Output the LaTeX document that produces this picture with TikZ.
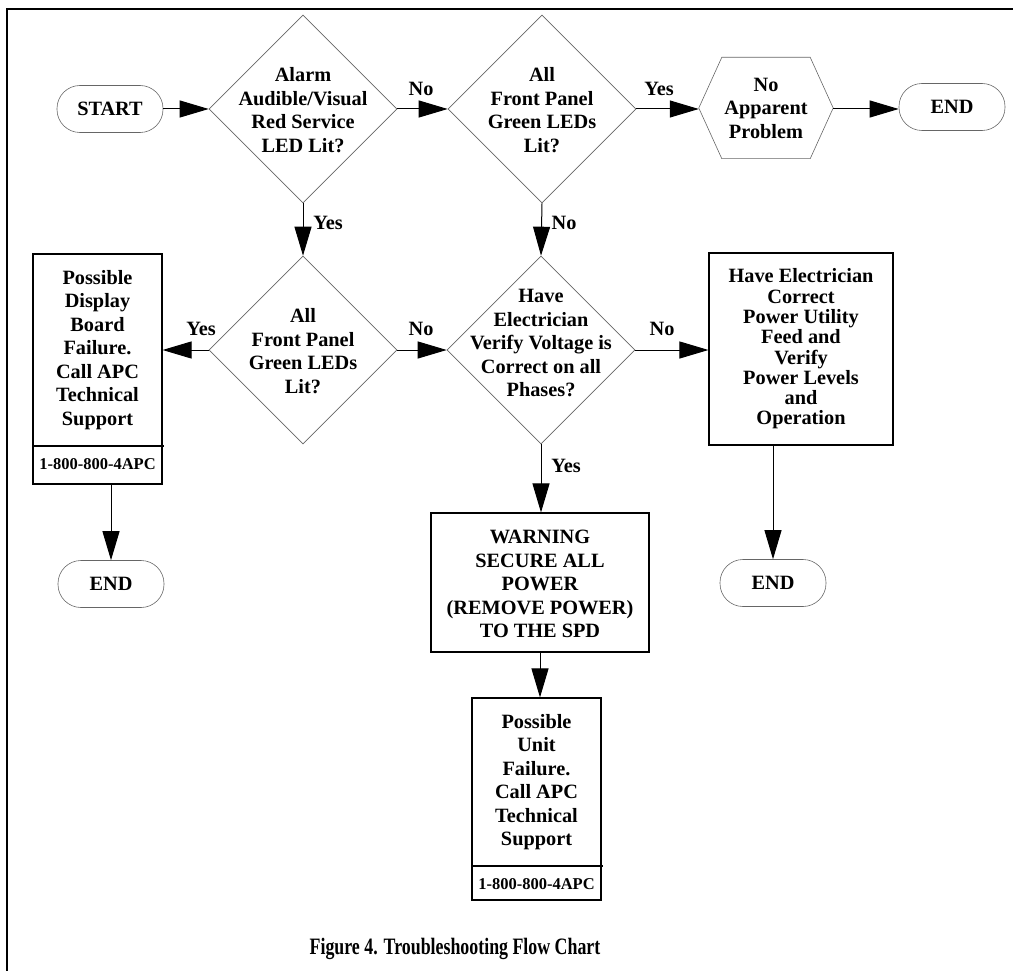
\documentclass[tikz,border=0pt]{standalone}
\usepackage{fontspec}
\setmainfont{Liberation Serif}
\usetikzlibrary{shapes.geometric,arrows.meta}
\begin{document}
\begin{tikzpicture}[x=1pt,y=-1pt,
  every node/.style={font=\bfseries\fontsize{20.3}{23.5}\selectfont, align=center, inner sep=0pt},
  dia/.style={diamond, draw=black!60, line width=0.6pt, minimum width=188pt, minimum height=188pt},
  term/.style={rectangle, rounded corners=23pt, draw=black!60, line width=0.6pt, minimum width=106pt, minimum height=47pt},
  box/.style={rectangle, draw=black, line width=1.1pt},
  phone/.style={font=\bfseries\fontsize{16.5}{19}\selectfont},
  arr/.style={line width=1pt, -{Triangle[length=29pt,width=17pt]}},
  ]
\useasboundingbox (0,0) rectangle (1013,971);
\draw[line width=1.5pt] (1013,9) -- (7,9) -- (7,971);

% top row
\node[term] (start) at (110,109) {START};
\node[dia] (d1) at (303,109) {};
\node (t1) at (303,110) {Alarm\\Audible/Visual\\Red Service\\LED Lit?};
\node[dia] (d3) at (542,109) {};
\node (t3) at (542,110) {All\\Front Panel\\Green LEDs\\Lit?};
\node[minimum width=134pt, minimum height=101pt] (hex) at (766,108) {No\\Apparent\\Problem};
\draw[draw=black!60, line width=0.6pt] (hex.west) -- ([xshift=23pt]hex.north west) -- ([xshift=-23pt]hex.north east) -- (hex.east) -- ([xshift=-23pt]hex.south east) -- ([xshift=23pt]hex.south west) -- cycle;
\node[term] (end1) at (952,107) {END};

% second row
\node[dia] (d2) at (303,350) {};
\node (t2) at (303,351) {All\\Front Panel\\Green LEDs\\Lit?};
\node[dia] (d4) at (541,350) {};
\node (t4) at (541,343) {Have\\Electrician\\Verify Voltage is\\Correct on all\\Phases?};

\node[box, minimum width=129pt, minimum height=230pt] (b1) at (97.5,369) {};
\node (b1t) at (97.5,350) {Possible\\Display\\Board\\Failure.\\Call APC\\Technical\\Support};
\coordinate (b1d) at (33,446);
\draw[line width=1.1pt] (b1d) -- ++(131,0);
\node[phone] (b1p) at (97.5,464) {1-800-800-4APC};

\node[box, minimum width=184pt, minimum height=192pt] (b2) at (801,349) {};
\node[font=\bfseries\fontsize{20.3}{20.3}\selectfont] (b2t) at (801,349) {Have Electrician\\Correct\\Power Utility\\Feed and\\Verify\\Power Levels\\and\\Operation};

\node[box, minimum width=218pt, minimum height=139pt] (warn) at (540,582.5) {};
\node (wt) at (540,584) {WARNING\\SECURE ALL\\POWER\\(REMOVE POWER)\\TO THE SPD};

\node[box, minimum width=129pt, minimum height=202pt] (b3) at (536.5,799) {};
\node (b3t) at (536.5,782) {Possible\\Unit\\Failure.\\Call APC\\Technical\\Support};
\coordinate (b3d) at (472,866);
\draw[line width=1.1pt] (b3d) -- ++(131,0);
\node[phone] (b3p) at (536.5,884) {1-800-800-4APC};

\node[term] (end2) at (111,584) {END};
\node[term] (end3) at (773,583) {END};

\node[font=\bfseries\fontsize{23.5}{26}\selectfont] (cap) at (455,949) {\scalebox{0.76}[1]{Figure 4. Troubleshooting Flow Chart}};

% connectors
\draw[arr] (start.east) -- (d1.west);
\draw[arr] (d1.east) -- (d3.west);
\node (l1) at (421,89) {No};
\draw[arr] (d3.east) -- (hex.west |- d3.east);
\node (l2) at (659,89) {Yes};
\draw[arr] (hex.east |- d3.east) -- (end1.west |- d3.east);
\draw[arr] (d1.south) -- (d2.north);
\node (l3) at (328,223) {Yes};
\draw[arr] (d3.south) -- (d4.north);
\node (l4) at (564,223) {No};
\draw[arr] (d2.west) -- (b1.east |- d2.west);
\node (l5) at (201,329) {Yes};
\draw[arr] (d2.east) -- (d4.west);
\node (l6) at (421,329) {No};
\draw[arr] (d4.east) -- (b2.west |- d4.east);
\node (l7) at (662,329) {No};
\draw[arr] (d4.south) -- (warn.north -| d4.south);
\node (l8) at (566,466) {Yes};
\draw[arr] (warn.south) -- (b3.north -| warn.south);
\draw[arr] (end2.north |- b1.south) -- (end2.north);
\draw[arr] (end3.north |- b2.south) -- (end3.north);
\end{tikzpicture}
\end{document}
